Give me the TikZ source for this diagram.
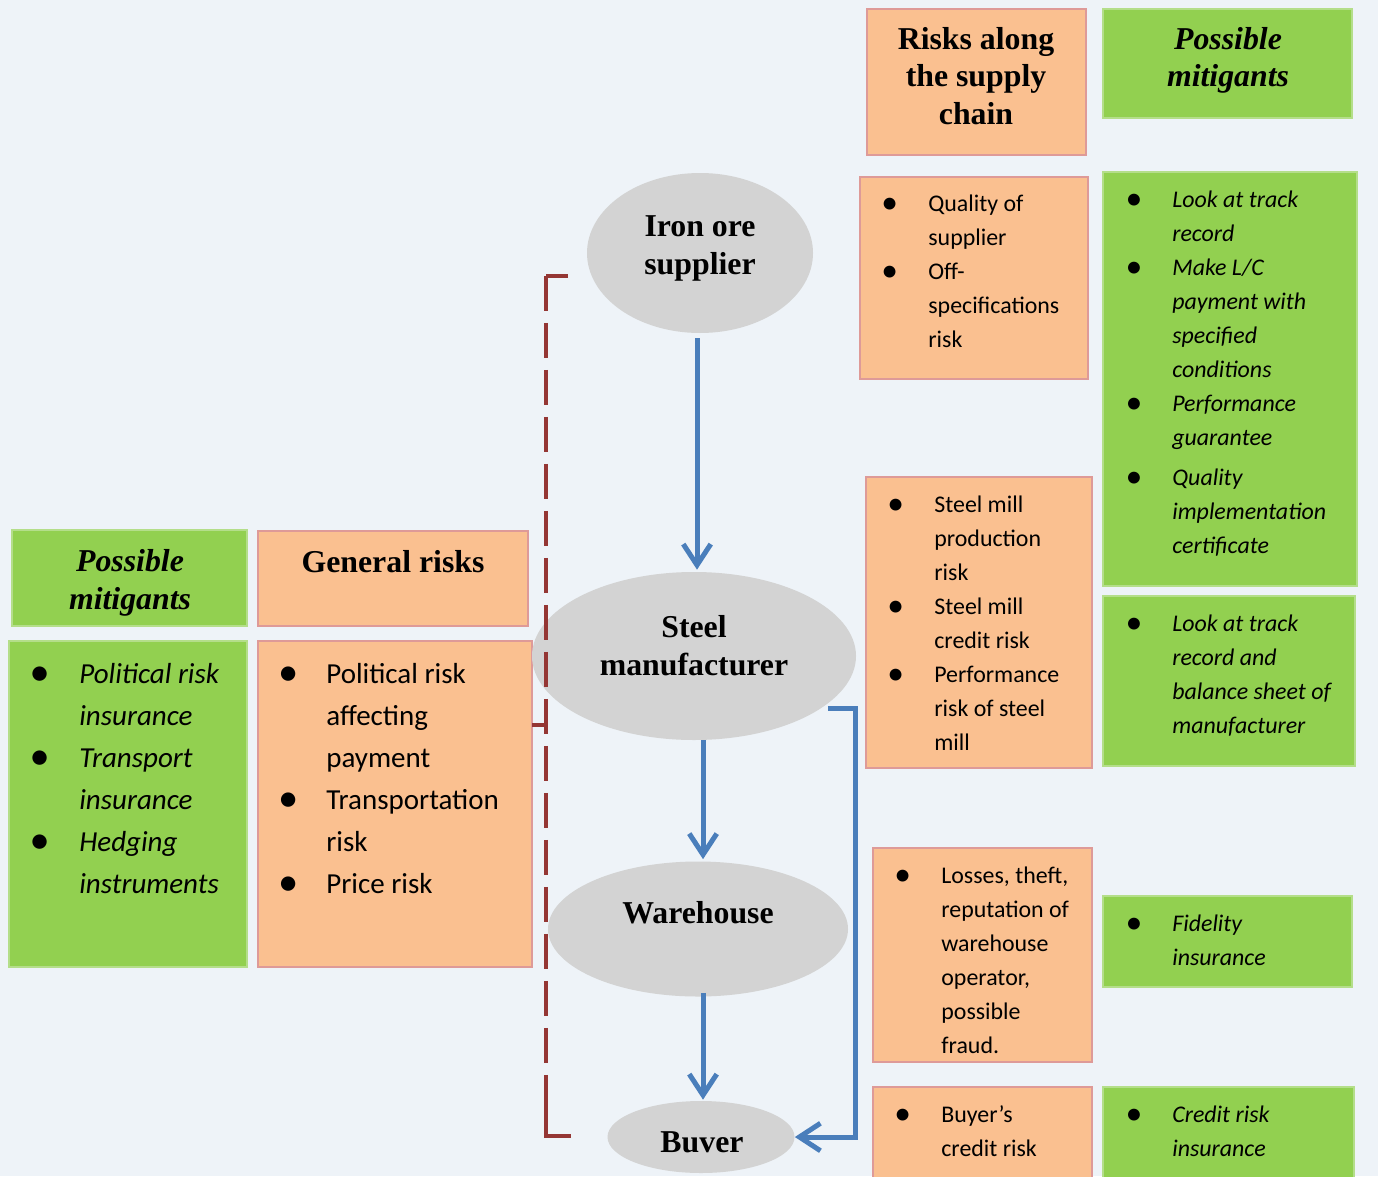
\documentclass[tikz,border=0pt]{standalone}
\usepackage{fontspec}
\usepackage{graphicx}
\setmainfont{Liberation Serif}
\newfontfamily\calfont{Carlito}
\usetikzlibrary{shapes.geometric,arrows.meta,calc}
\newlength\PX \setlength\PX{0.02cm}
\definecolor{bgc}{HTML}{EEF3F8}
\definecolor{ofill}{HTML}{FAC090}
\definecolor{oborder}{HTML}{DE9A98}
\definecolor{gfill}{HTML}{92D050}
\definecolor{gborder}{HTML}{B4DE8A}
\definecolor{egray}{HTML}{D3D3D3}
\definecolor{ablue}{HTML}{4A7EBB}
\definecolor{rbrack}{HTML}{943634}
\newcommand\mkbox[6]{\node[#2, inner sep=0pt, outer sep=0pt, minimum width={(#5-#3)*0.02cm}, minimum height={(#6-#4)*0.02cm}] (#1) at ({(#3+#5)/2},{(#4+#6)/2}) {};}
\newcommand\bul[1][47]{\llap{\makebox[#1\PX][l]{\raisebox{-2\PX}{\scalebox{1.4}{\textbullet}}}}}
\begin{document}
\begin{tikzpicture}[x=0.02cm,y=-0.02cm,
  obox/.style={draw=oborder, fill=ofill, line width=0.04cm},
  gbox/.style={draw=gborder, fill=gfill, line width=0.03cm},
  ell/.style={ellipse, fill=egray, draw=none, inner sep=0pt},
  arr/.style={draw=ablue, line width=0.1cm, -{Straight Barb[length=0.42cm,width=0.55cm]}},
  rsolid/.style={draw=rbrack, line width=0.07cm},
  rdash/.style={draw=rbrack, line width=0.07cm, dash pattern=on 0.7cm off 0.24cm},
  hd/.style={font=\fontsize{18.1pt}{21.3pt}\selectfont\bfseries, align=center, anchor=base},
  hdi/.style={font=\fontsize{18.1pt}{21.3pt}\selectfont\bfseries\itshape, align=center, anchor=base},
  ls/.style={font=\calfont\fontsize{13.6pt}{19.3pt}\selectfont, align=left, anchor=base west, inner sep=0pt},
  lsi/.style={font=\calfont\fontsize{13.6pt}{19.3pt}\selectfont\itshape, align=left, anchor=base west, inner sep=0pt},
  ll/.style={font=\calfont\fontsize{16.5pt}{23.8pt}\selectfont, align=left, anchor=base west, inner sep=0pt},
  lli/.style={font=\calfont\fontsize{16.5pt}{23.8pt}\selectfont\itshape, align=left, anchor=base west, inner sep=0pt}
]
\fill[bgc] (0,0) rectangle (1378,1176);
\useasboundingbox (0,0) rectangle (1378,1176);

% boxes
\mkbox{rhead}{obox}{867}{9}{1086}{155}
\mkbox{mhead}{gbox}{1103}{9}{1352}{118}
\mkbox{o1}{obox}{860}{177}{1088}{379}
\mkbox{g1}{gbox}{1103}{172}{1357}{586}
\mkbox{o2}{obox}{866}{477}{1092}{768}
\mkbox{g2}{gbox}{1103}{596}{1355}{766}
\mkbox{o3}{obox}{873}{848}{1092}{1062}
\mkbox{g3}{gbox}{1103}{896}{1352}{987}
\mkbox{o4}{obox}{873}{1087}{1092}{1182}
\mkbox{g4}{gbox}{1103}{1087}{1354}{1182}
\mkbox{lmhead}{gbox}{12}{530}{247}{626}
\mkbox{genhead}{obox}{258}{531}{528}{626}
\mkbox{lmbody}{gbox}{9}{641}{247}{967}
\mkbox{genbody}{obox}{258}{641}{532}{967}

% headings (anchor = baseline of last line)
\node[hd] (rheadT) at (976,124) {Risks along\\the supply\\chain};
\node[hdi] (mheadT) at (1228,87) {Possible\\mitigants};
\node[hdi] (lmheadT) at (130,609) {Possible\\mitigants};
\node[hd] (genheadT) at (393,572) {General risks};

% ellipses
\node[ell, minimum width=226*0.02cm, minimum height=160*0.02cm] (iron) at (700,253) {};
\node[ell, minimum width=324*0.02cm, minimum height=168*0.02cm] (steel) at (694,656) {};
\node[ell, minimum width=300*0.02cm, minimum height=135*0.02cm] (warehouse) at (698,929) {};
\node[ell, minimum width=187*0.02cm, minimum height=72*0.02cm] (buyer) at (701,1137) {};
\node[hd] (ironT) at (700,274) {Iron ore\\supplier};
\node[hd] (steelT) at (694,675) {Steel\\manufacturer};
\node[hd] (warehouseT) at (698,923) {Warehouse};
\node[hd] (buyerT) at (702,1152) {Buver};

% lists (anchor = baseline of last line)
\node[ls] (o1T) at (928,347) {\bul Quality of\\supplier\\\bul Off-\\specifications\\risk};
\node[lsi] (g1T) at (1172,553) {\bul Look at track\\record\\\bul Make L/C\\payment with\\specified\\conditions\\\bul Performance\\guarantee\\[6\PX]\bul Quality\\implementation\\certificate};
\node[ls] (o2T) at (934,750) {\bul Steel mill\\production\\risk\\\bul Steel mill\\credit risk\\\bul Performance\\risk of steel\\mill};
\node[lsi] (g2T) at (1172,733) {\bul Look at track\\record and\\balance sheet of\\manufacturer};
\node[ls] (o3T) at (941,1053) {\bul Losses, theft,\\reputation of\\warehouse\\operator,\\possible\\fraud.};
\node[lsi] (g3T) at (1172,965) {\bul Fidelity\\insurance};
\node[ls] (o4T) at (941,1156) {\bul Buyer’s\\credit risk};
\node[lsi] (g4T) at (1172,1156) {\bul Credit risk\\insurance};
\node[lli] (lmT) at (79,893) {\bul[50]Political risk\\insurance\\\bul[50]Transport\\insurance\\\bul[50]Hedging\\instruments};
\node[ll] (genT) at (326,893) {\bul[48]Political risk\\affecting\\payment\\\bul[48]Transportation\\risk\\\bul[48]Price risk};

% blue arrows
\draw[arr] ($(iron.south)+(-3,5)$) -- ($(steel.north)+(3,-2)$);
\draw[arr] ($(steel.south)+(9,0)$) -- ($(warehouse.north)+(5,-2)$);
\draw[arr] ($(warehouse.south)+(5,-4)$) -- ($(buyer.north)+(2,-1)$);
\coordinate (bs) at (828,708);
\draw[arr] (bs) -- (855,708) |- (buyer.east);

% red bracket
\coordinate (rt) at (568,276);
\coordinate (rc) at (546,276);
\coordinate (rd) at (546,1136);
\coordinate (rb) at (571,1136);
\coordinate (rm) at (546,725);
\draw[rsolid] (rt) -- (rc);
\draw[rdash] (rc) -- (rd);
\draw[rsolid] (546,1100) -- (rd) -- (rb);
\draw[rsolid] (genbody.east |- rm) -- (rm);
\end{tikzpicture}
\end{document}
